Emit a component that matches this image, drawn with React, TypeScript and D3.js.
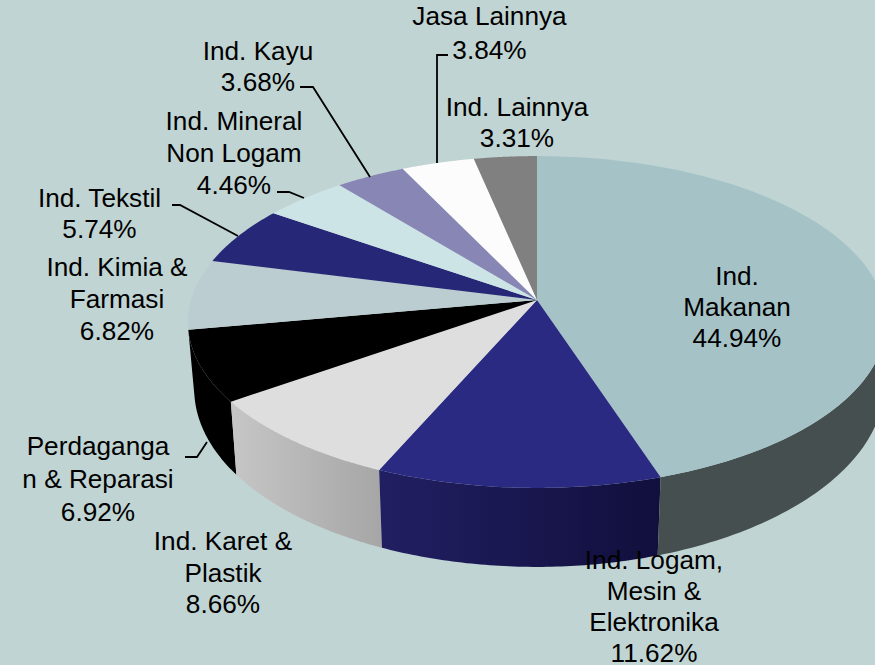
import React from "react";
import * as d3 from "d3";

const categories = ["Ind. Makanan","Ind. Logam, Mesin & Elektronika","Ind. Karet & Plastik","Perdagangan & Reparasi","Ind. Kimia & Farmasi","Ind. Tekstil","Ind. Mineral Non Logam","Ind. Kayu","Jasa Lainnya","Ind. Lainnya"];
const values = [44.94,11.62,8.66,6.92,6.82,5.74,4.46,3.68,3.84,3.31];
const topColors = ["#a5c3c7","#2b2a83","#dedede","#000000","#bccdd1","#272777","#cce4e6","#8886b4","#fcfcfc","#808080"];
const wallFills = ["#454f50","url(#wallBlue)","url(#wallGray)","#000000"];

const labels = [
  { lines: ["Ind.","Makanan","44.94%"], x: 737, y: 285, gap: 31 },
  { lines: ["Ind. Logam,","Mesin &","Elektronika","11.62%"], x: 654, y: 569, gap: 31 },
  { lines: ["Ind. Karet &","Plastik","8.66%"], x: 223, y: 550, gap: 31.5 },
  { lines: ["Perdaganga","n & Reparasi","6.92%"], x: 98, y: 455, gap: 33 },
  { lines: ["Ind. Kimia &","Farmasi","6.82%"], x: 117, y: 276, gap: 32 },
  { lines: ["Ind. Tekstil","5.74%"], x: 99.5, y: 207, gap: 31 },
  { lines: ["Ind. Mineral","Non Logam","4.46%"], x: 234, y: 130, gap: 32 },
  { lines: ["Ind. Kayu","3.68%"], x: 258, y: 60, gap: 31 },
  { lines: ["Jasa Lainnya","3.84%"], x: 489.5, y: 25, gap: 34 },
  { lines: ["Ind. Lainnya","3.31%"], x: 517, y: 116, gap: 31 },
];
const leaders: [number, number][][] = [
  [[300,87],[313,87],[370,177]],
  [[448,55],[437,55],[437,163]],
  [[277,192],[289,192],[304,198]],
  [[172,205],[180,205],[238,236]],
  [[185,457],[197,457],[207,442]],
];

const CX = 537, CY = 300, A = 163, B = 346, P = 0.1325;
const project = (t: number) => {
  const c = Math.cos(t), s = Math.sin(t), d = 1 + P * c;
  return [CX + (B * s) / d, CY - (A * c) / d] as [number, number];
};
const lower = (t: number) => {
  const [x, y] = project(t);
  const c = Math.cos(t);
  const shrink = Math.sin(t) > 0 ? 0.998 + 0.023 * c : 0.982;
  return [CX + shrink * (x - CX), y + 65 - 14 * c] as [number, number];
};
const sample = (a: number, b: number, f: (t: number) => [number, number]) =>
  d3.range(0, 61).map((i) => f(a + ((b - a) * i) / 60));
const line = d3.line();

export default function App() {
  const arcs = d3.pie<number>().sort(null)(values);
  const wallStart = Math.acos(-P);
  return (
    <svg width={875} height={665} style={{ position: "absolute", left: 0, top: 0, background: "#c0d4d3" }} fontFamily="'Liberation Sans', Arial, sans-serif">
      <defs>
        <linearGradient id="wallBlue" x1="0" x2="1" y1="0" y2="0">
          <stop offset="0" stopColor="#211f62" />
          <stop offset="1" stopColor="#110f3c" />
        </linearGradient>
        <linearGradient id="wallGray" x1="0" x2="1" y1="0" y2="0">
          <stop offset="0" stopColor="#c6c6c6" />
          <stop offset="1" stopColor="#a6a6a6" />
        </linearGradient>
      </defs>
      {arcs.slice(0, 4).reverse().map((a) => {
        const start = a.index === 0 ? wallStart : a.startAngle;
        const pts = [...sample(start, a.endAngle, project), ...sample(start, a.endAngle, lower).reverse()];
        return <path key={a.index} d={line(pts) + "Z"} fill={wallFills[a.index]} />;
      })}
      {arcs.map((a) => (
        <path key={a.index} d={line([[CX, CY], ...sample(a.startAngle, a.endAngle, project)]) + "Z"} fill={topColors[a.index]}>
          <title>{categories[a.index]}</title>
        </path>
      ))}
      {leaders.map((l, i) => (
        <path key={i} d={line(l)!} fill="none" stroke="#000" strokeWidth={1.8} />
      ))}
      {labels.map((l, i) => (
        <text key={i} textAnchor="middle" fontSize={26.2} fill="#000">
          {l.lines.map((t, j) => (
            <tspan key={j} x={l.x} y={l.y + j * l.gap}>{t}</tspan>
          ))}
        </text>
      ))}
    </svg>
  );
}
